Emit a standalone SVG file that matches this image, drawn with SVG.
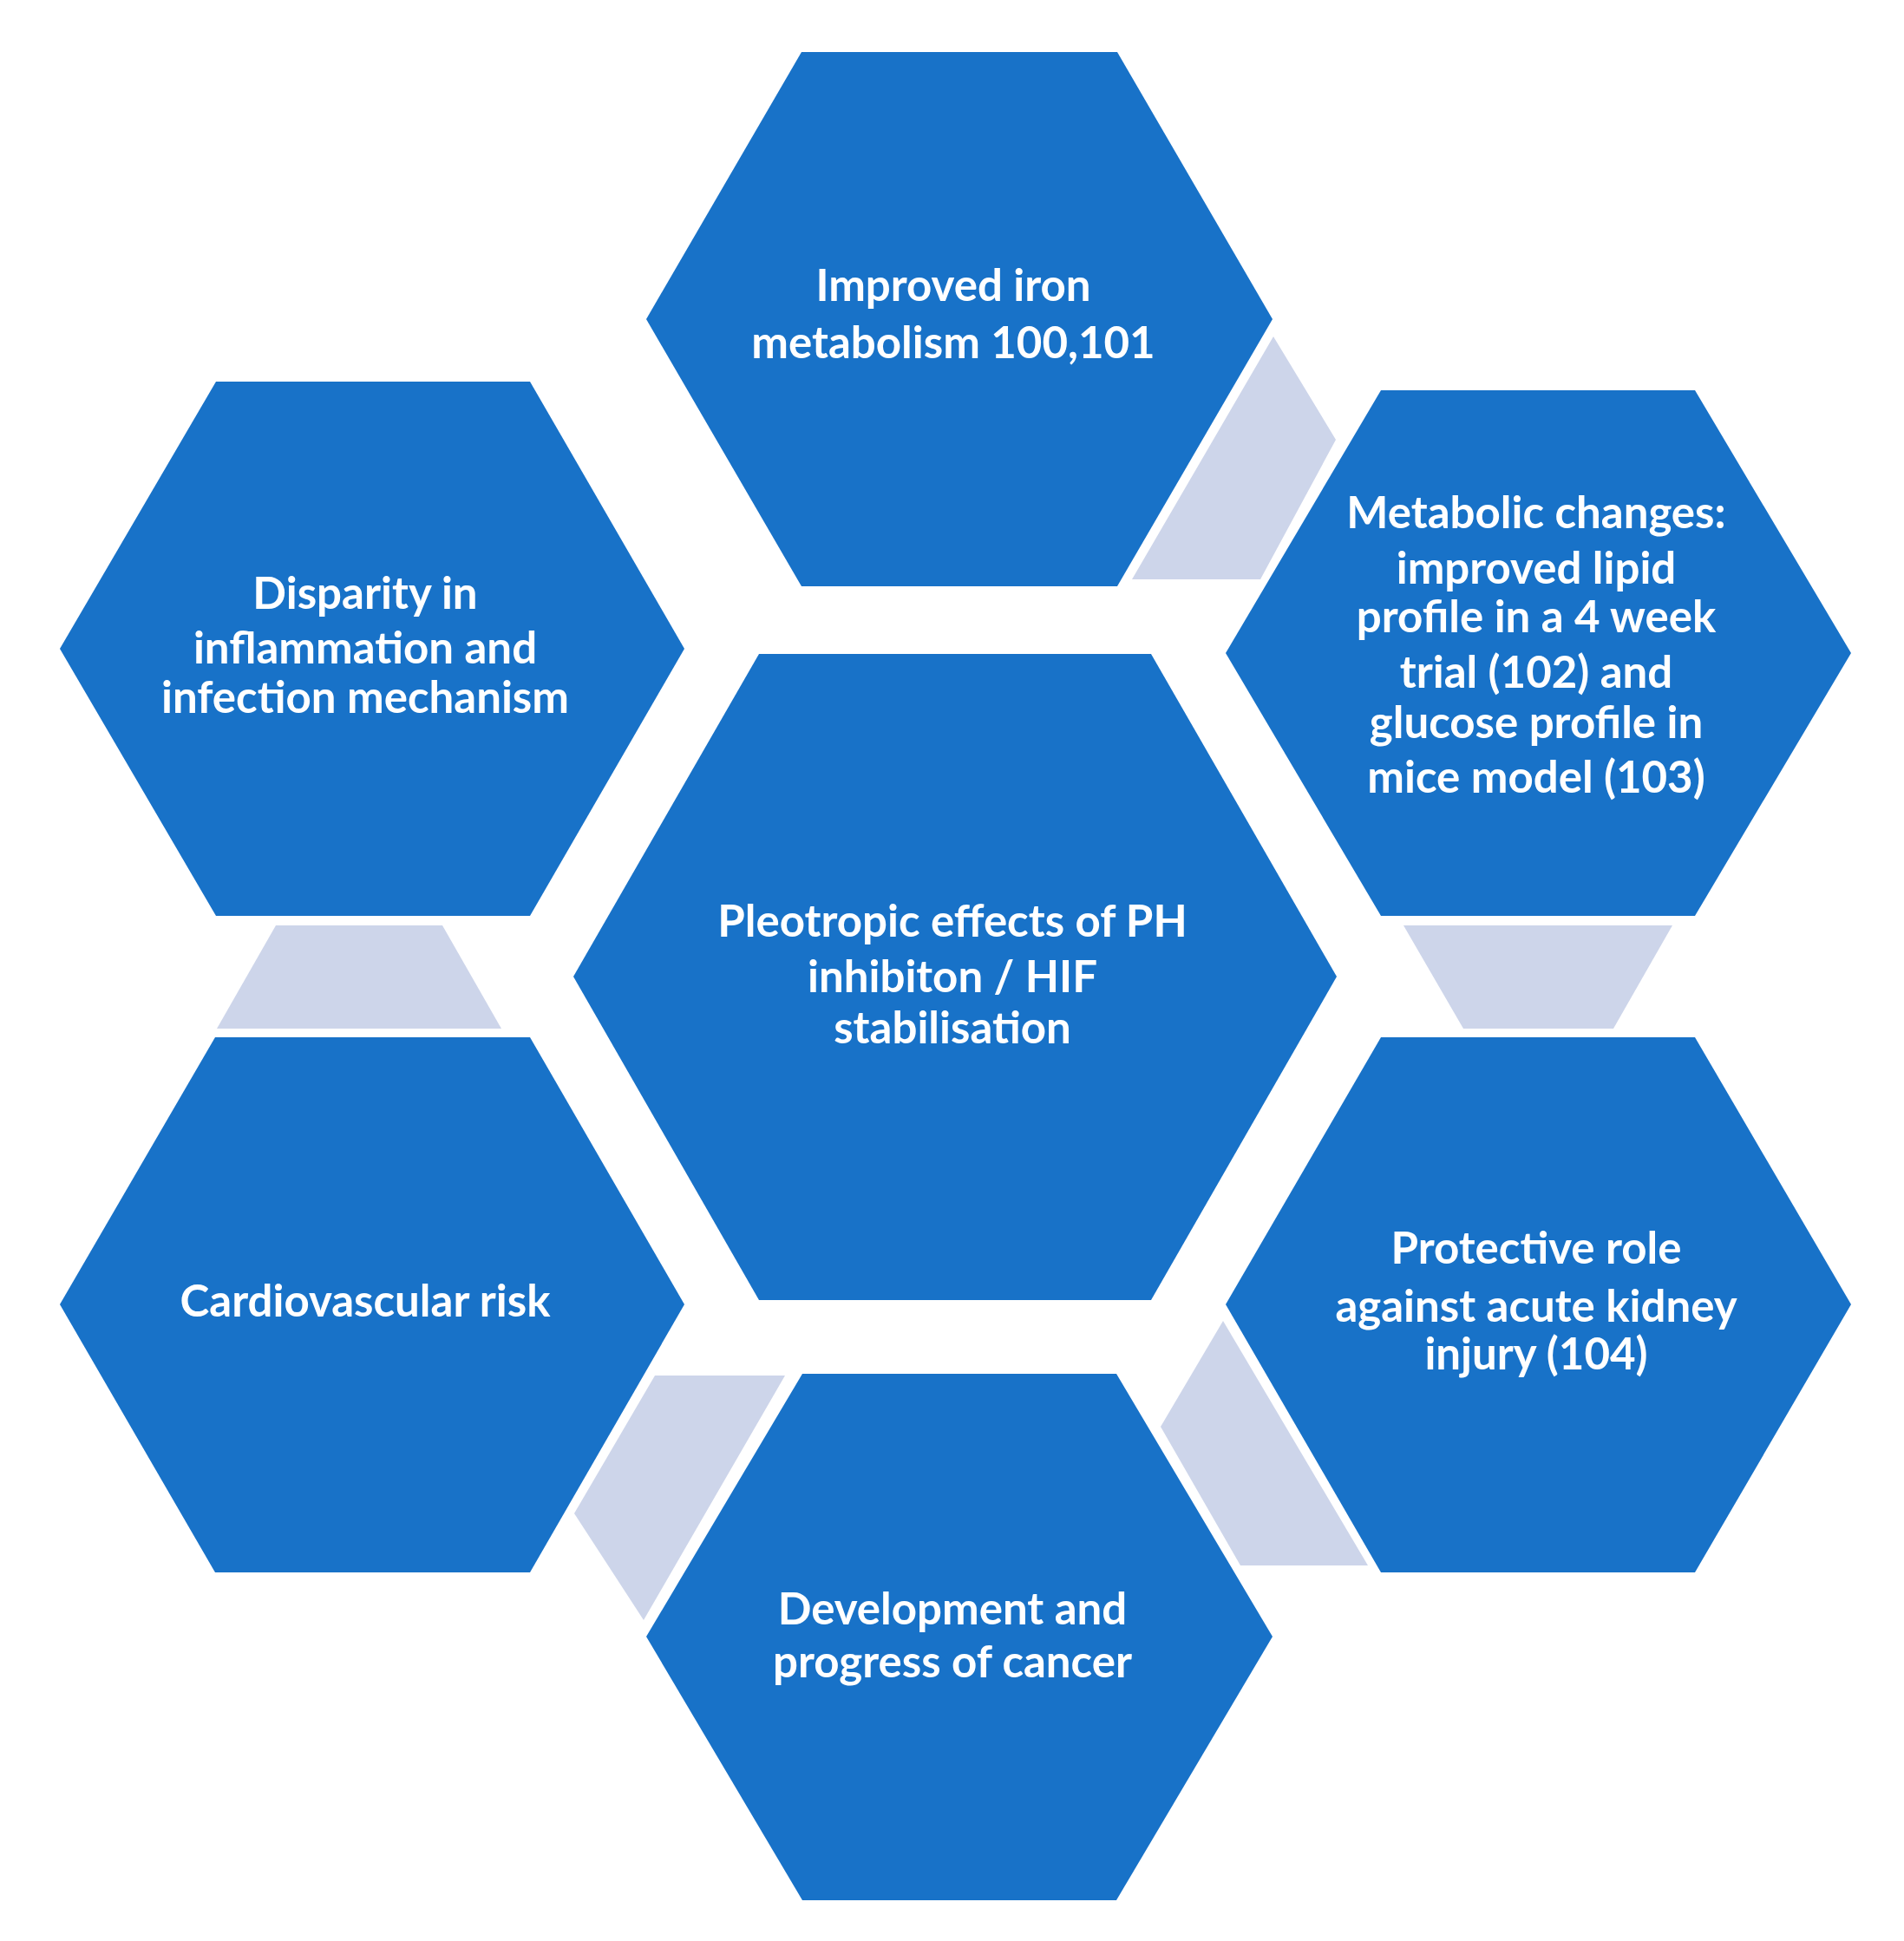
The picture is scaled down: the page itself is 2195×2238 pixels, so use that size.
<svg xmlns="http://www.w3.org/2000/svg" width="2195" height="2238" viewBox="0 0 2195 2238">
<style>
.hex{fill:#1872C8;}
.link{fill:#CDD5EA;}
.lbl{fill:#FFFFFF;font-family:Lato,"Liberation Sans",sans-serif;font-weight:bold;font-size:51px;text-anchor:middle;}
</style>
<rect x="0" y="0" width="2195" height="2238" fill="#FFFFFF"/>
<g id="connectors">
<polygon class="link" points="1305,668 1468,388 1540,507 1453,668"/>
<polygon class="link" points="318,1067 510,1067 578,1186 250,1186"/>
<polygon class="link" points="1618,1067 1928,1067 1860,1186 1687,1186"/>
<polygon class="link" points="1410,1523 1577,1805 1430,1805 1338,1645"/>
<polygon class="link" points="755,1586 905,1586 742,1868 662,1745"/>
</g>
<g id="node-iron">
<polygon class="hex" points="745,368 924,60 1288,60 1467,368 1288,676 924,676"/>
<text class="lbl" x="1099" y="347">Improved iron</text>
<text class="lbl" x="1099" y="413">metabolism 100,101</text>
</g>
<g id="node-inflammation">
<polygon class="hex" points="69,748 249,440 611,440 789,748 611,1056 249,1056"/>
<text class="lbl" x="421" y="702">Disparity in</text>
<text class="lbl" x="421" y="765">inflammation and</text>
<text class="lbl" x="421" y="822">infection mechanism</text>
</g>
<g id="node-metabolic">
<polygon class="hex" points="1413,753 1592,450 1954,450 2134,753 1954,1056 1592,1056"/>
<text class="lbl" x="1771" y="609">Metabolic changes:</text>
<text class="lbl" x="1771" y="673">improved lipid</text>
<text class="lbl" x="1771" y="729">profile in a 4 week</text>
<text class="lbl" x="1771" y="793">trial (102) and</text>
<text class="lbl" x="1771" y="851">glucose profile in</text>
<text class="lbl" x="1771" y="914">mice model (103)</text>
</g>
<g id="node-center">
<polygon class="hex" points="661,1126 875,754 1327,754 1541,1126 1327,1499 875,1499"/>
<text class="lbl" x="1098" y="1080">Pleotropic effects of PH</text>
<text class="lbl" x="1098" y="1144">inhibiton / HIF</text>
<text class="lbl" x="1098" y="1203">stabilisation</text>
</g>
<g id="node-cardio">
<polygon class="hex" points="69,1504 248,1196 611,1196 789,1504 611,1813 248,1813"/>
<text class="lbl" x="421" y="1518">Cardiovascular risk</text>
</g>
<g id="node-kidney">
<polygon class="hex" points="1413,1504 1592,1196 1954,1196 2134,1504 1954,1813 1592,1813"/>
<text class="lbl" x="1771" y="1457">Protective role</text>
<text class="lbl" x="1771" y="1524">against acute kidney</text>
<text class="lbl" x="1771" y="1579">injury (104)</text>
</g>
<g id="node-cancer">
<polygon class="hex" points="745,1887 925,1584 1287,1584 1467,1887 1287,2191 925,2191"/>
<text class="lbl" x="1098" y="1873">Development and</text>
<text class="lbl" x="1098" y="1934">progress of cancer</text>
</g>
</svg>
